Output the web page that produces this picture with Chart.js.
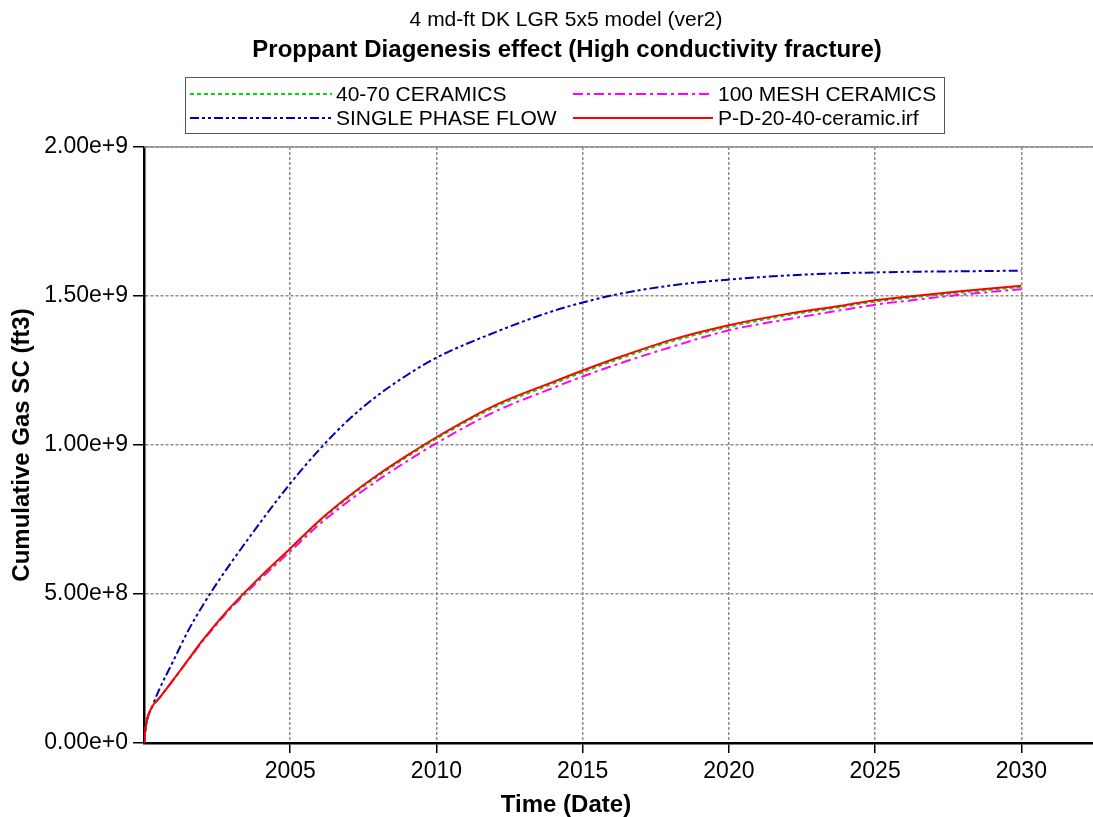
<!DOCTYPE html>
<html>
<head>
<meta charset="utf-8">
<script src="https://cdn.jsdelivr.net/npm/chart.js@4"></script>
<style>
html,body{margin:0;padding:0;background:#fff;}
#wrap{width:1093px;height:817px;position:relative;}
</style>
</head>
<body>
<div id="wrap"><canvas id="c" width="1093" height="817"></canvas></div>
<script>
// ---- data ----
const titleText = "4 md-ft DK LGR 5x5 model (ver2)";
const subtitleText = "Proppant Diagenesis effect (High conductivity fracture)";
const xTitle = "Time (Date)";
const yTitle = "Cumulative Gas SC (ft3)";
const seriesLabels = ["40-70 CERAMICS", "100 MESH CERAMICS", "SINGLE PHASE FLOW", "P-D-20-40-ceramic.irf"];
const xTickValues = [2005, 2010, 2015, 2020, 2025, 2030];
const yTickValues = [0, 5e8, 1e9, 1.5e9, 2e9];

const years = [2000, 2000.08, 2000.28, 2000.5, 2001, 2001.5, 2002, 2002.5, 2003, 2004, 2005, 2006, 2007, 2008, 2009, 2010, 2012, 2014, 2015, 2016, 2018, 2020, 2022, 2024, 2025, 2026, 2028, 2030];
const ceramics4070 = [0, 0.66e8, 1.22e8, 1.48e8, 2.12e8, 2.78e8, 3.44e8, 4.03e8, 4.58e8, 5.57e8, 6.50e8, 7.43e8, 8.23e8, 8.95e8, 9.60e8, 1.021e9, 1.127e9, 1.206e9, 1.244e9, 1.280e9, 1.346e9, 1.396e9, 1.435e9, 1.465e9, 1.481e9, 1.492e9, 1.512e9, 1.530e9];
const mesh100 = [0, 0.66e8, 1.22e8, 1.48e8, 2.11e8, 2.76e8, 3.41e8, 4.00e8, 4.55e8, 5.52e8, 6.43e8, 7.34e8, 8.12e8, 8.82e8, 9.46e8, 1.006e9, 1.112e9, 1.192e9, 1.230e9, 1.265e9, 1.328e9, 1.385e9, 1.422e9, 1.455e9, 1.471e9, 1.483e9, 1.505e9, 1.523e9];
const singlePhase = [0, 0.66e8, 1.22e8, 1.75e8, 2.75e8, 3.75e8, 4.60e8, 5.37e8, 6.08e8, 7.43e8, 8.71e8, 9.85e8, 1.085e9, 1.167e9, 1.235e9, 1.293e9, 1.378e9, 1.450e9, 1.478e9, 1.502e9, 1.535e9, 1.555e9, 1.569e9, 1.577e9, 1.579e9, 1.581e9, 1.583e9, 1.585e9];
const pd2040 = [0, 0.66e8, 1.22e8, 1.48e8, 2.12e8, 2.78e8, 3.44e8, 4.04e8, 4.60e8, 5.60e8, 6.53e8, 7.47e8, 8.28e8, 9.00e8, 9.65e8, 1.026e9, 1.133e9, 1.212e9, 1.250e9, 1.286e9, 1.352e9, 1.402e9, 1.440e9, 1.470e9, 1.486e9, 1.497e9, 1.517e9, 1.534e9];

const FONT = '"Liberation Sans", Arial, sans-serif';
const toPts = arr => years.map((x, i) => ({x: x, y: arr[i]}));

const styles = [
  {color: '#00dd00', dash: [4, 3], width: 1.8, order: 1},
  {color: '#ff00ff', dash: [10, 4, 3, 4], width: 2, order: 2},
  {color: '#0000b4', dash: [9, 3, 3, 3, 3, 3], width: 2, order: 3},
  {color: '#ff0000', dash: [], width: 2, order: 0}
];
const seriesData = [ceramics4070, mesh100, singlePhase, pd2040];

const datasets = seriesData.map((d, i) => ({
  label: seriesLabels[i],
  data: toPts(d),
  borderColor: styles[i].color,
  borderDash: styles[i].dash,
  borderWidth: styles[i].width,
  pointRadius: 0,
  fill: false,
  cubicInterpolationMode: 'monotone',
  order: styles[i].order
}));

const overlay = {
  id: 'overlay',
  afterDraw(chart) {
    const ctx = chart.ctx, a = chart.chartArea;
    ctx.save();
    // top frame line
    ctx.setLineDash([]);
    ctx.strokeStyle = '#8c8c8c';
    ctx.lineWidth = 1.5;
    ctx.beginPath(); ctx.moveTo(a.left, a.top); ctx.lineTo(a.right, a.top); ctx.stroke();
    // titles
    ctx.fillStyle = '#000';
    ctx.textAlign = 'center';
    ctx.textBaseline = 'middle';
    ctx.font = '21px ' + FONT;
    ctx.fillText(titleText, 566, 20);
    ctx.font = 'bold 24px ' + FONT;
    ctx.fillText(subtitleText, 567, 50);
    // x axis title
    ctx.font = 'bold 24px ' + FONT;
    ctx.fillText(xTitle, 566, 805);
    // legend box
    ctx.fillStyle = '#fff';
    ctx.fillRect(185, 77, 760, 57);
    ctx.strokeStyle = '#555';
    ctx.lineWidth = 1;
    ctx.strokeRect(185.5, 77.5, 759, 56);
    const slots = [
      {x1: 190, x2: 332, tx: 336, y: 94},
      {x1: 573, x2: 713, tx: 718, y: 94},
      {x1: 190, x2: 332, tx: 336, y: 118},
      {x1: 573, x2: 713, tx: 718, y: 118}
    ];
    ctx.font = '21px ' + FONT;
    ctx.textAlign = 'left';
    chart.data.datasets.forEach((ds, i) => {
      const s = slots[i];
      ctx.strokeStyle = ds.borderColor;
      ctx.lineWidth = ds.borderWidth;
      ctx.setLineDash(ds.borderDash);
      ctx.beginPath(); ctx.moveTo(s.x1, s.y); ctx.lineTo(s.x2, s.y); ctx.stroke();
      ctx.setLineDash([]);
      ctx.fillStyle = '#000';
      ctx.fillText(ds.label, s.tx, s.y + 1);
    });
    ctx.restore();
  }
};

new Chart(document.getElementById('c'), {
  type: 'line',
  data: {datasets: datasets},
  plugins: [overlay],
  options: {
    responsive: false,
    animation: false,
    layout: {padding: {top: 147, right: 0, left: 0, bottom: 0}},
    plugins: {legend: {display: false}, title: {display: false}, tooltip: {enabled: false}},
    scales: {
      x: {
        type: 'linear',
        min: 2000,
        max: 2032.45,
        afterBuildTicks: s => { s.ticks = xTickValues.map(v => ({value: v})); },
        afterFit: s => { s.height = 74; },
        ticks: {
          color: '#000',
          font: {family: FONT, size: 23},
          padding: 5,
          maxRotation: 0,
          callback: v => String(v)
        },
        grid: {color: '#8c8c8c', lineWidth: 1.5, tickColor: '#000', tickLength: 10, tickWidth: 1.5, tickBorderDash: []},
        border: {display: true, color: '#000', width: 2.5, dash: [3, 2]}
      },
      y: {
        type: 'linear',
        min: 0,
        max: 2e9,
        afterBuildTicks: s => { s.ticks = yTickValues.map(v => ({value: v})); },
        afterFit: s => { s.width = 144; },
        ticks: {
          color: '#000',
          font: {family: FONT, size: 23},
          padding: 5,
          callback: v => Number(v).toExponential(2)
        },
        title: {
          display: true,
          text: yTitle,
          color: '#000',
          font: {family: FONT, size: 24, weight: 'bold', lineHeight: 1.2},
          padding: {top: 8, bottom: 0}
        },
        grid: {color: '#8c8c8c', lineWidth: 1.5, tickColor: '#000', tickLength: 11, tickWidth: 1.5, tickBorderDash: []},
        border: {display: true, color: '#000', width: 2.5, dash: [3, 2]}
      }
    }
  }
});
</script>
</body>
</html>
